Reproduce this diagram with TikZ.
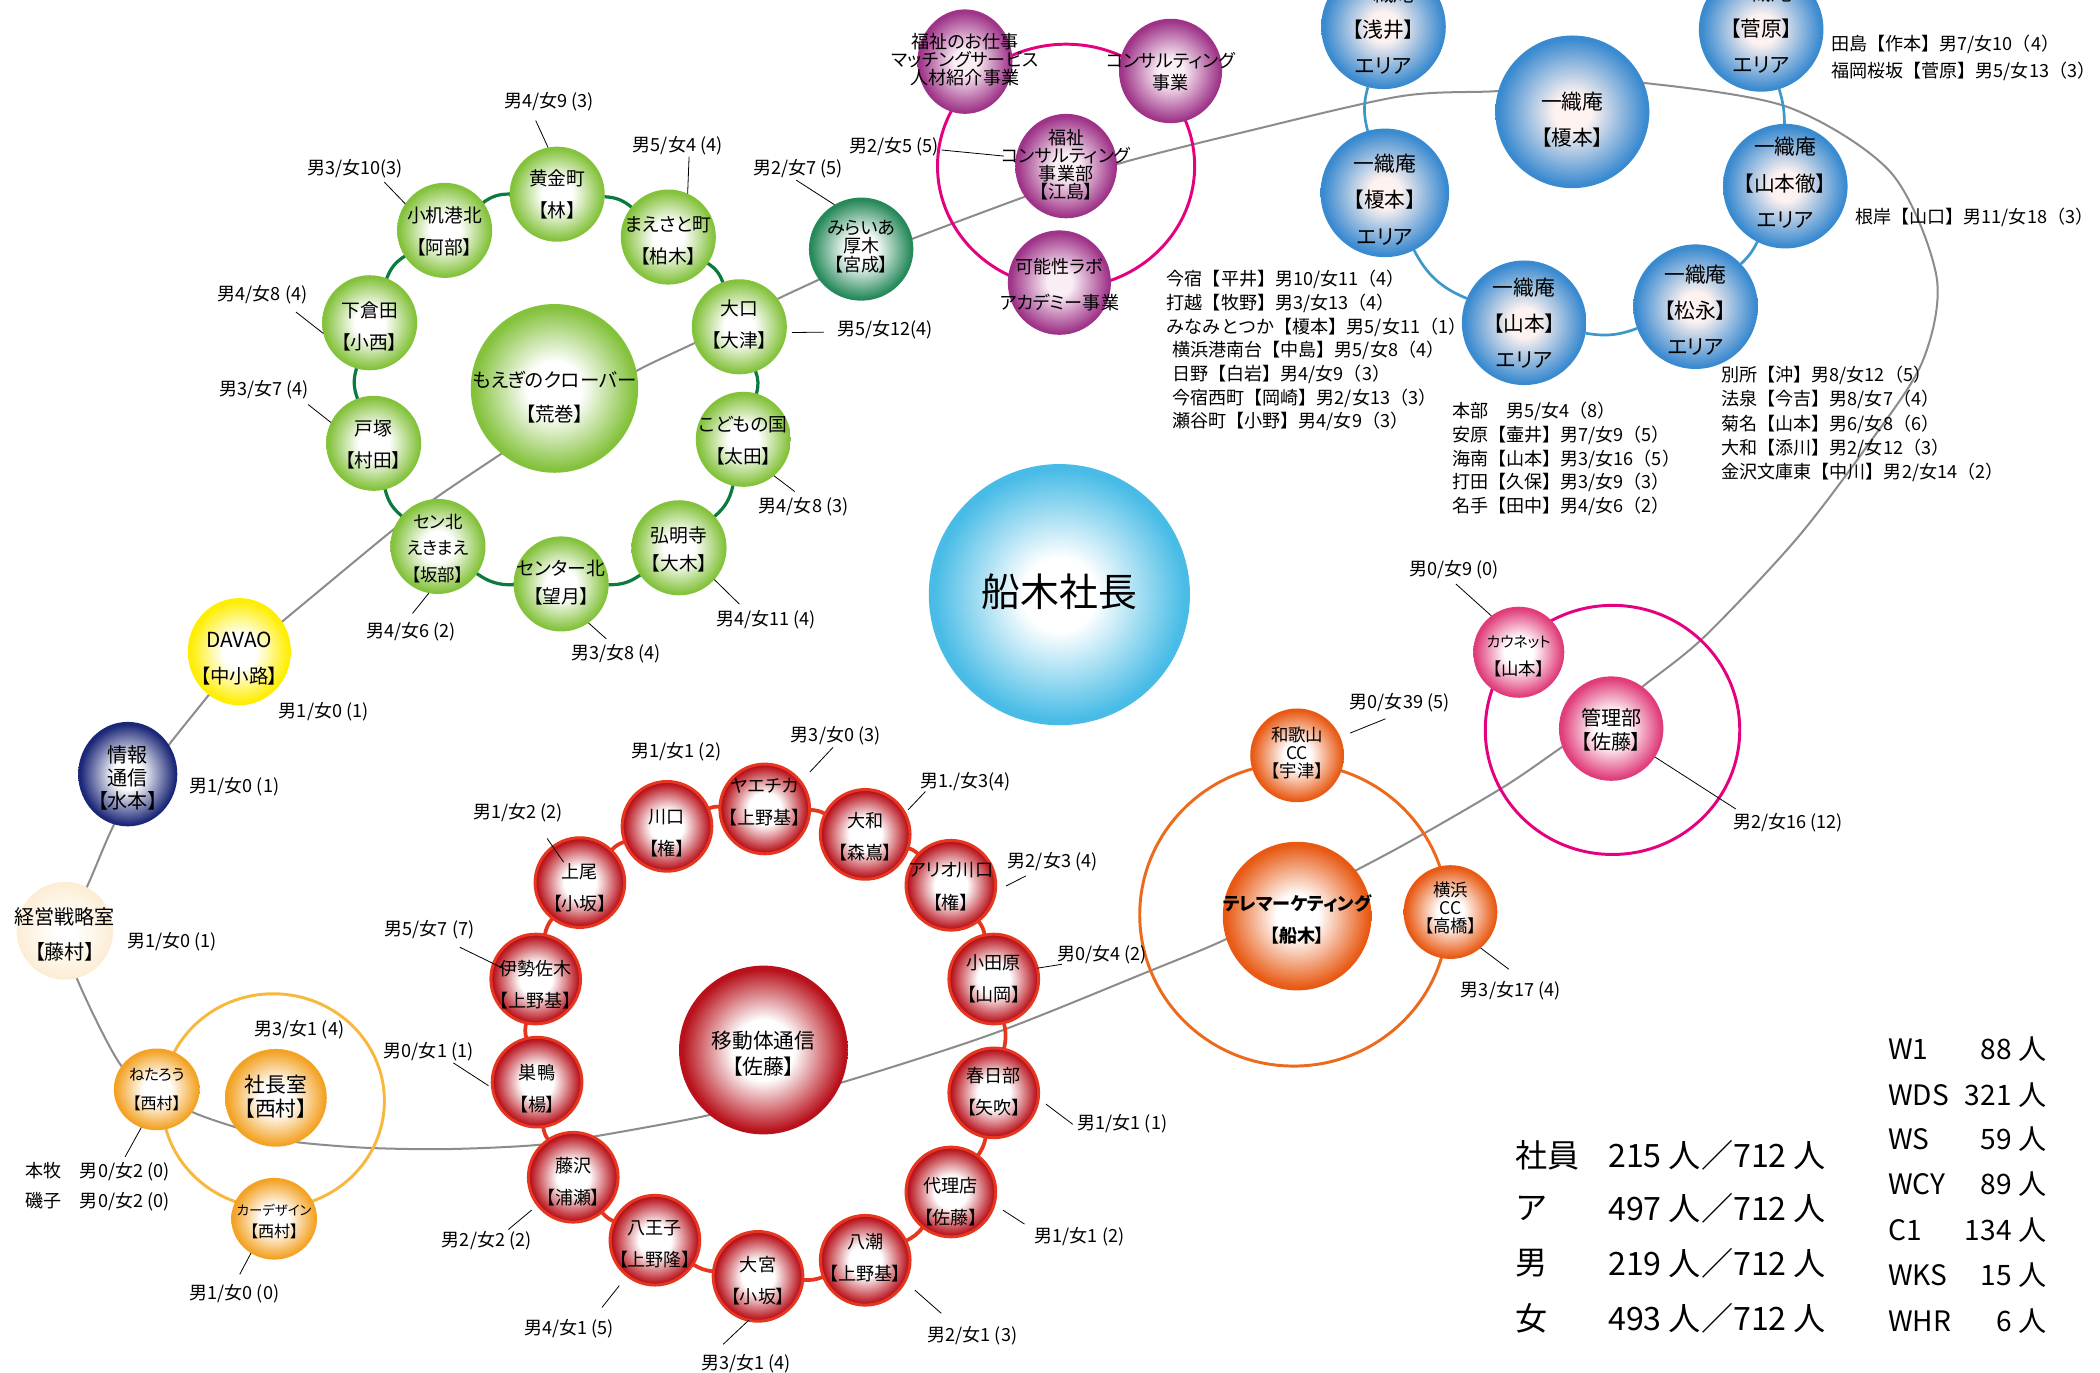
\documentclass[tikz,border=0pt]{standalone}
\usepackage{fontspec}
\setmainfont{Noto Sans CJK JP}
\newfontfamily\pfont[RawFeature=+palt]{Noto Sans CJK JP}
\usetikzlibrary{shapes.geometric}
\newcommand\myfs[2]{\fontsize{#1}{#2}\selectfont}
\definecolor{cgreen}{HTML}{84C23C}
\definecolor{cgreenline}{HTML}{0A7A3E}
\definecolor{cteal}{HTML}{26895A}
\definecolor{cred}{HTML}{B8111B}
\definecolor{credb}{HTML}{E6361F}
\definecolor{cblue}{HTML}{3A8AD0}
\definecolor{cblueinner}{HTML}{FDF2F0}
\definecolor{cblueline}{HTML}{3A98CB}
\definecolor{ccyan}{HTML}{48BCE6}
\definecolor{cpurple}{HTML}{9E3388}
\definecolor{cpurpleinner}{HTML}{FAEEF5}
\definecolor{cmag}{HTML}{E4007F}
\definecolor{corange}{HTML}{E85A14}
\definecolor{corangering}{HTML}{EB6A1C}
\definecolor{cpink}{HTML}{E03C7A}
\definecolor{cgold}{HTML}{F3A224}
\definecolor{cgoldring}{HTML}{F8B83E}
\definecolor{cyellow}{HTML}{FFEE00}
\definecolor{cnavy}{HTML}{1B2777}
\definecolor{ccream}{HTML}{FCEED6}
\definecolor{cspine}{HTML}{8C8C8C}
\newcommand\mkshade[4]{\pgfdeclareradialshading{#1}{\pgfpoint{0bp}{0bp}}{color(0bp)=(#2); color(#4)=(#2); color(24bp)=(#3); color(50bp)=(#3)}}
\mkshade{shgreen}{white}{cgreen}{8bp}
\mkshade{shteal}{white}{cteal}{7bp}
\mkshade{shred}{white}{cred}{9bp}
\mkshade{shblue}{cblueinner}{cblue}{6bp}
\mkshade{shcyan}{white}{ccyan}{7bp}
\mkshade{shpurple}{cpurpleinner}{cpurple}{6bp}
\mkshade{shorange}{white}{corange}{7bp}
\mkshade{shpink}{white}{cpink}{8bp}
\mkshade{shgold}{white}{cgold}{8bp}
\mkshade{shyellow}{white}{cyellow}{8bp}
\mkshade{shnavy}{white}{cnavy}{7bp}
\mkshade{shcream}{white}{ccream}{5bp}
\tikzset{
 bub/.style={ellipse, inner sep=0pt, outer sep=0pt, shade},
 gbub/.style={bub, shading=shgreen, minimum width=71pt, minimum height=71pt},
 rbub/.style={bub, shading=shred, draw=credb, line width=2.2pt, minimum width=67pt, minimum height=67pt},
 bbub/.style={bub, shading=shblue, minimum width=93pt, minimum height=93pt},
 pbub/.style={bub, shading=shpurple, minimum width=77pt, minimum height=78pt},
 obub/.style={bub, shading=shorange, minimum width=70pt, minimum height=70pt},
 ybub/.style={bub, shading=shgold, minimum width=64pt, minimum height=61pt},
 ntxt/.style={align=center, inner sep=0pt},
 gtxt/.style={ntxt, font={\pfont\myfs{14}{24}}},
 rtxt/.style={ntxt, font={\pfont\myfs{13.5}{24}}},
 btxt/.style={ntxt, font={\pfont\myfs{15.5}{27}}},
 ptxt/.style={ntxt, font={\pfont\myfs{13.5}{13.5}}},
 lab/.style={inner sep=0pt, font={\myfs{13.5}{16}}},
 blk/.style={inner sep=0pt, align=left, anchor=west},
 leader/.style={draw=black, line width=0.6pt},
 spine/.style={draw=cspine, line width=1.5pt},
 gline/.style={draw=cgreenline, line width=2.4pt},
 rline/.style={draw=credb, line width=2.8pt},
 bline/.style={draw=cblueline, line width=2pt},
 ring/.style={line width=2.2pt},
}
\begin{document}
\begin{tikzpicture}[x=1pt,y=-1pt]
\useasboundingbox (0,0) rectangle (1568,1025);
\clip (0,0) rectangle (1568,1025);
\fill[white] (0,0) rectangle (1568,1025);

% spine
\draw[spine] plot[smooth cycle, tension=0.5] coordinates {
(48,695) (58,732) (90,795) (117,813) (143,830) (177,842) (200,848) (223,853) (273,857) (333,858) (400,855) (447,848) (523,834) (575,821) (626,809) (741,772) (856,726) (916,701) (968,673) (1046,632) (1122,588) (1166,558) (1200,535) (1226,513) (1272,476) (1340,404) (1392,336) (1435,271) (1446,207) (1412,129) (1335,80) (1228,62) (1173,62) (1118,68) (1045,72) (923,100) (836,122) (800,136) (765,147) (682,178) (645,193) (611,209) (581,223) (552,238) (523,254) (477,276) (425,306) (374,339) (325,372) (293,396) (212,463) (178,491) (155,520) (127,555) (105,585) (85,616) (65,662)};

% cluster rings
\draw[ring, cmag] (796,124) ellipse [x radius=96, y radius=91];
\draw[ring, corangering] (966,683) ellipse [x radius=115, y radius=113];
\draw[ring, cmag] (1204,545) ellipse [x radius=95, y radius=93];
\draw[ring, cgoldring] (204,822) ellipse [x radius=83, y radius=80];

% green nodes
\node[gbub] (kogane) at (416,145) {};
\node[gbub] (maesato) at (499,177) {};
\node[gbub] (oguchi) at (552,244) {};
\node[gbub] (kodomo) at (555,328) {};
\node[gbub] (gumyoji) at (507,409) {};
\node[gbub] (centerkita) at (419,436) {};
\node[gbub] (senkita) at (327,408) {};
\node[gbub] (totsuka) at (279,331) {};
\node[gbub] (shimokurata) at (276,241) {};
\node[gbub] (kozukue) at (332,172) {};
\node[gbub, minimum width=125pt, minimum height=126pt] (moegi) at (414,290) {};
\node[bub, shading=shteal, minimum width=78pt, minimum height=77pt] (mirai) at (643,186) {};

% purple nodes
\node[pbub, minimum width=71pt] (fukushi) at (720.5,46) {};
\node[pbub] (consul) at (874,53) {};
\node[pbub, minimum width=76pt] (fconsul) at (796,124) {};
\node[pbub] (kanosei) at (791,211) {};

% blue nodes
\node[bbub] (asai) at (1033,20) {};
\node[bbub] (sugawara) at (1315,22) {};
\node[bbub, minimum width=115pt, minimum height=114pt] (enomoto) at (1174,83.5) {};
\node[bbub, minimum width=96pt, minimum height=96pt] (enomotoA) at (1034,144) {};
\node[bbub] (yamamotoA) at (1138,241) {};
\node[bbub] (matsunaga) at (1266,229) {};
\node[bbub] (tetsu) at (1333,139) {};

% center
\node[bub, shading=shcyan, minimum width=195pt, minimum height=195pt] (funaki) at (791,444) {};

% pink
\node[bub, shading=shpink, minimum width=68pt, minimum height=68pt] (kaunet) at (1134,487) {};
\node[bub, shading=shpink, minimum width=78pt, minimum height=78pt] (kanri) at (1203,544) {};

% orange
\node[obub] (wakayama) at (968.5,564) {};
\node[obub, minimum width=111pt, minimum height=111pt] (telema) at (968.5,684) {};
\node[obub] (yokoCC) at (1083,681) {};

% red
\node[bub, shading=shred, minimum width=126pt, minimum height=126pt] (idoutai) at (570,784) {};
\node[rbub] (kawaguchi) at (498,617) {};
\node[rbub] (yaechika) at (571,604) {};
\node[rbub] (yamato) at (646,623) {};
\node[rbub] (ario) at (710,661) {};
\node[rbub] (odawara) at (742,731) {};
\node[rbub] (kasukabe) at (742,816) {};
\node[rbub] (dairiten) at (710,890) {};
\node[rbub] (yashio) at (646,941) {};
\node[rbub] (omiya) at (566,953) {};
\node[rbub] (hachioji) at (489,926) {};
\node[rbub] (fujisawa) at (428,879) {};
\node[rbub] (sugamo) at (401,808) {};
\node[rbub] (isezaki) at (400,731) {};
\node[rbub] (ageo) at (433,659) {};

% left
\node[bub, shading=shyellow, minimum width=77pt, minimum height=80pt] (davao) at (178.7,486.6) {};
\node[bub, shading=shnavy, minimum width=74pt, minimum height=78pt] (jouhou) at (95.4,578) {};
\node[bub, shading=shcream, minimum width=72pt, minimum height=73pt] (keiei) at (48.4,695) {};
\node[ybub] (netarou) at (117,813.4) {};
\node[bub, shading=shgold, minimum width=76pt, minimum height=73pt] (shachou) at (206,819.7) {};
\node[ybub] (cardesign) at (204.7,910) {};

% ring connectors
\foreach \a/\b in {kogane/maesato, maesato/oguchi, oguchi/kodomo, kodomo/gumyoji, gumyoji/centerkita, centerkita/senkita, senkita/totsuka, totsuka/shimokurata, shimokurata/kozukue, kozukue/kogane}
  \draw[gline] (\a) to[bend left=18] (\b);
\foreach \a/\b in {kawaguchi/yaechika, yaechika/yamato, yamato/ario, ario/odawara, odawara/kasukabe, kasukabe/dairiten, dairiten/yashio, yashio/omiya, omiya/hachioji, hachioji/fujisawa, fujisawa/sugamo, sugamo/isezaki, isezaki/ageo, ageo/kawaguchi}
  \draw[rline] (\a) to[bend left=13] (\b);
\draw[bline] (asai) to[bend right=15] (enomotoA);
\draw[bline] (enomotoA) to[bend right=20] (yamamotoA);
\draw[bline] (yamamotoA) to[bend right=15] (matsunaga);
\draw[bline] (matsunaga) to[bend right=10] (tetsu);
\draw[bline] (tetsu) to[bend right=8] (sugawara);

% node texts
\node[gtxt] (kogane-t) at (416,145) {黄金町\\【林】};
\node[gtxt] (maesato-t) at (499,180) {まえさと町\\【柏木】};
\node[gtxt] (oguchi-t) at (552,242) {大口\\【大津】};
\node[gtxt] (kodomo-t) at (555,329) {こどもの国\\【太田】};
\node[gtxt, font={\pfont\myfs{14}{21}}] (gumyoji-t) at (507,410) {弘明寺\\【大木】};
\node[gtxt, font={\pfont\myfs{14}{21}}] (centerkita-t) at (419,435) {センター北\\【望月】};
\node[gtxt, font={\pfont\myfs{13}{20}}] (senkita-t) at (327,409.5) {セン北\\えきまえ\\【坂部】};
\node[gtxt] (totsuka-t) at (279,332) {戸塚\\【村田】};
\node[gtxt] (shimokurata-t) at (276,244) {下倉田\\【小西】};
\node[gtxt] (kozukue-t) at (332,172.5) {小机港北\\【阿部】};
\node[gtxt, font={\pfont\myfs{14.5}{25}}] (moegi-t) at (414,296.5) {もえぎのクローバー\\【荒巻】};
\node[ptxt, font={\pfont\myfs{13.5}{13.7}}] (mirai-t) at (643,184) {みらいあ\\厚木\\【宮成】};

\node[ptxt] (fukushi-t) at (720.5,44.5) {福祉のお仕事\\マッチングサービス\\人材紹介事業};
\node[ptxt, font={\pfont\myfs{13.5}{17}}] (consul-t) at (874,53.5) {コンサルティング\\事業};
\node[ptxt] (fconsul-t) at (796,123) {福祉\\コンサルティング\\事業部\\【江島】};
\node[ptxt, font={\pfont\myfs{13.5}{27}}] (kanosei-t) at (791,212.7) {可能性ラボ\\アカデミー事業};

\node[btxt] (asai-t) at (1033,22) {一織庵\\【浅井】\\エリア};
\node[btxt] (sugawara-t) at (1315,21) {一織庵\\【菅原】\\エリア};
\node[btxt] (enomoto-t) at (1174,89.5) {一織庵\\【榎本】};
\node[btxt] (enomotoA-t) at (1034,149) {一織庵\\【榎本】\\エリア};
\node[btxt] (yamamotoA-t) at (1138,241.5) {一織庵\\【山本】\\エリア};
\node[btxt] (matsunaga-t) at (1266,231.5) {一織庵\\【松永】\\エリア};
\node[btxt] (tetsu-t) at (1333,136.5) {一織庵\\【山本徹】\\エリア};

\node[ntxt, font={\pfont\myfs{29}{30}}] (funaki-t) at (791,442) {船木社長};

\node[ntxt, font={\pfont\myfs{13}{21}}] (kaunet-t) at (1134,490) {{\myfs{11}{21}カウネット}\\【山本】};
\node[ntxt, font={\pfont\myfs{15}{18}}] (kanri-t) at (1203,545) {管理部\\【佐藤】};

\node[ntxt, font={\pfont\myfs{13}{13.5}}] (wakayama-t) at (968.5,562.5) {和歌山\\CC\\【宇津】};
\node[ntxt, font={\pfont\bfseries\myfs{13.5}{23.5}}] (telema-t) at (968.5,686.6) {テレマーケティング\\【船木】};
\node[ntxt, font={\pfont\myfs{13}{13.5}}] (yokoCC-t) at (1083,678) {横浜\\CC\\【高橋】};

\node[ntxt, font={\pfont\myfs{15.5}{20}}] (idoutai-t) at (570,786.7) {移動体通信\\【佐藤】};
\node[rtxt] (kawaguchi-t) at (498,622) {川口\\【権】};
\node[rtxt] (yaechika-t) at (571,599) {ヤエチカ\\【上野基】};
\node[rtxt] (yamato-t) at (646,625) {大和\\【森嶌】};
\node[rtxt] (ario-t) at (710,662) {アリオ川口\\【権】};
\node[rtxt] (odawara-t) at (742,731) {小田原\\【山岡】};
\node[rtxt] (kasukabe-t) at (742,815) {春日部\\【矢吹】};
\node[rtxt] (dairiten-t) at (710,897) {代理店\\【佐藤】};
\node[rtxt] (yashio-t) at (646,939) {八潮\\【上野基】};
\node[rtxt] (omiya-t) at (566,956) {大宮\\【小坂】};
\node[rtxt] (hachioji-t) at (489,929) {八王子\\【上野隆】};
\node[rtxt] (fujisawa-t) at (428,882) {藤沢\\【浦瀬】};
\node[rtxt] (sugamo-t) at (401,813) {巣鴨\\【楊】};
\node[rtxt] (isezaki-t) at (400,735) {伊勢佐木\\【上野基】};
\node[rtxt] (ageo-t) at (433,663) {上尾\\【小坂】};

\node[ntxt, font={\pfont\myfs{14.5}{27}}] (davao-t) at (178.7,491.7) {{\myfs{15.5}{27}DAVAO}\\【中小路】};
\node[ntxt, font={\pfont\myfs{15}{17}}] (jouhou-t) at (95.4,581) {情報\\通信\\【水本】};
\node[ntxt, font={\pfont\myfs{15}{26}}] (keiei-t) at (48.4,697.6) {経営戦略室\\【藤村】};
\node[ntxt, font={\pfont\myfs{12}{21.6}}] (netarou-t) at (117,813.8) {{\myfs{11.5}{21.6}ねたろう}\\【西村】};
\node[ntxt, font={\pfont\myfs{15.5}{17.5}}] (shachou-t) at (206,819) {社長室\\【西村】};
\node[ntxt, font={\pfont\myfs{12}{16}}] (cardesign-t) at (204.7,912) {{\myfs{10}{16}カーデザイン}\\【西村】};

% labels
\node[lab] (kogane-lab) at (410,76) {男4/女9 (3)};
\node[lab] (maesato-lab) at (506,109) {男5/女4 (4)};
\node[lab] (kozukue-lab) at (265,126) {男3/女10(3)};
\node[lab] (shimokurata-lab) at (196,220) {男4/女8 (4)};
\node[lab] (totsuka-lab) at (197,291) {男3/女7 (4)};
\node[lab] (senkita-lab) at (307,472) {男4/女6 (2)};
\node[lab] (centerkita-lab) at (460,488) {男3/女8 (4)};
\node[lab] (gumyoji-lab) at (572,463) {男4/女11 (4)};
\node[lab] (kodomo-lab) at (600,378) {男4/女8 (3)};
\node[lab] (oguchi-lab) at (661,246.5) {男5/女12(4)};
\node[lab] (mirai-lab) at (596,125.7) {男2/女7 (5)};
\node[lab] (fconsul-lab) at (667.6,109.5) {男2/女5 (5)};
\node[lab] (kaunet-lab) at (1085.6,425.7) {男0/女9 (0)};
\node[lab] (kanri-lab) at (1335,614) {男2/女16 (12)};
\node[lab] (wakayama-lab) at (1045,525) {男0/女39 (5)};
\node[lab] (yokoCC-lab) at (1128,740) {男3/女17 (4)};
\node[lab] (kawaguchi-lab) at (505,561) {男1/女1 (2)};
\node[lab] (yaechika-lab) at (624,549) {男3/女0 (3)};
\node[lab] (yamato-lab) at (721,584) {男1./女3(4)};
\node[lab] (ario-lab) at (786,643.5) {男2/女3 (4)};
\node[lab] (odawara-lab) at (823,713) {男0/女4 (2)};
\node[lab] (kasukabe-lab) at (838,838.7) {男1/女1 (1)};
\node[lab] (dairiten-lab) at (806,923.6) {男1/女1 (2)};
\node[lab] (yashio-lab) at (726,997) {男2/女1 (3)};
\node[lab] (omiya-lab) at (557,1018) {男3/女1 (4)};
\node[lab] (hachioji-lab) at (425,992) {男4/女1 (5)};
\node[lab] (fujisawa-lab) at (363.4,926) {男2/女2 (2)};
\node[lab] (sugamo-lab) at (320,785.4) {男0/女1 (1)};
\node[lab] (isezaki-lab) at (320.7,694.5) {男5/女7 (7)};
\node[lab] (ageo-lab) at (386.8,607) {男1/女2 (2)};
\node[lab] (davao-lab) at (241.7,531.5) {男1/女0 (1)};
\node[lab] (jouhou-lab) at (175,587.5) {男1/女0 (1)};
\node[lab] (keiei-lab) at (128.4,703.3) {男1/女0 (1)};
\node[lab] (shachou-lab) at (223.5,769) {男3/女1 (4)};
\node[lab, anchor=west] (honmoku-lab) at (19,875) {本牧　男0/女2 (0)};
\node[lab, anchor=west] (isogo-lab) at (19,897.4) {磯子　男0/女2 (0)};
\node[lab] (cardesign-lab) at (175,965.8) {男1/女0 (0)};

% leaders
\coordinate (kogane-l) at (400,90);
\coordinate (maesato-l) at (514.5,117);
\coordinate (kozukue-l) at (287,136);
\coordinate (shimokurata-l) at (221,233);
\coordinate (totsuka-l) at (230,302);
\coordinate (senkita-l) at (308,458);
\coordinate (centerkita-l) at (452.7,477);
\coordinate (gumyoji-l) at (552,451);
\coordinate (kodomo-l) at (593.4,367);
\coordinate (oguchi-l) at (615,248);
\coordinate (mirai-l) at (594.5,134.5);
\coordinate (fconsul-l) at (703,112);
\coordinate (kaunet-l) at (1087,436);
\coordinate (kanri-l) at (1296,604);
\coordinate (wakayama-l) at (1034.5,536.7);
\coordinate (yokoCC-l) at (1126.6,723.7);
\coordinate (yaechika-l) at (622,558);
\coordinate (yamato-l) at (691,591);
\coordinate (ario-l) at (766,654);
\coordinate (odawara-l) at (792.8,720);
\coordinate (kasukabe-l) at (801,839.5);
\coordinate (dairiten-l) at (765,914);
\coordinate (yashio-l) at (702.8,980.6);
\coordinate (omiya-l) at (540,1003.7);
\coordinate (hachioji-l) at (449.4,976.3);
\coordinate (fujisawa-l) at (379.6,918);
\coordinate (sugamo-l) at (338.5,793.6);
\coordinate (isezaki-l) at (343.4,707.3);
\coordinate (ageo-l) at (408.5,626);
\coordinate (netarou-l) at (93.4,863.8);
\coordinate (cardesign-l) at (179,951.5);
\draw[leader] (kogane-l) -- (kogane.101);
\draw[leader] (maesato-l) -- (maesato.66);
\draw[leader] (kozukue-l) -- (kozukue.146);
\draw[leader] (shimokurata-l) -- (shimokurata.193);
\draw[leader] (totsuka-l) -- (totsuka.154);
\draw[leader] (senkita-l) -- (senkita.259);
\draw[leader] (centerkita-l) -- (centerkita.305);
\draw[leader] (gumyoji-l) -- (gumyoji.318);
\draw[leader] (kodomo-l) -- (kodomo.310);
\draw[leader, shorten >=4pt] (oguchi-l) -- (oguchi.353);
\draw[leader] (mirai-l) -- (mirai.121);
\draw[leader, shorten >=9pt] (fconsul-l) -- (fconsul.170);
\draw[leader] (kaunet-l) -- (kaunet.127);
\draw[leader] (kanri-l) -- (kanri.327);
\draw[leader, shorten >=8pt] (wakayama-l) -- (wakayama.23);
\draw[leader] (yokoCC-l) -- (yokoCC.310);
\draw[leader, shorten >=10pt] (yaechika-l) -- (yaechika.37);
\draw[leader, shorten >=3.5pt] (yamato-l) -- (yamato.28);
\draw[leader, shorten >=9pt] (ario-l) -- (ario.352);
\draw[leader] (odawara-l) -- (odawara.14);
\draw[leader, shorten >=7pt] (kasukabe-l) -- (kasukabe.353);
\draw[leader, shorten >=8pt] (dairiten-l) -- (dairiten.344);
\draw[leader, shorten >=10pt] (yashio-l) -- (yashio.332);
\draw[leader] (omiya-l) -- (omiya.258);
\draw[leader, shorten >=9.6pt] (hachioji-l) -- (hachioji.232);
\draw[leader, shorten >=6pt] (fujisawa-l) -- (fujisawa.218);
\draw[leader, shorten >=3.7pt] (sugamo-l) -- (sugamo.188);
\draw[leader, shorten >=-10pt] (isezaki-l) -- (isezaki.160);
\draw[leader, shorten >=-14pt] (ageo-l) -- (ageo.127);
\draw[leader] (netarou-l) -- (netarou.248);
\draw[leader] (cardesign-l) -- (cardesign.236);

% text blocks
\node[blk, font={\myfs{13.5}{17.7}}] (blk1) at (871,261.8) {今宿【平井】男10/女11（4）\\打越【牧野】男3/女13（4）\\みなみとつか【榎本】男5/女11（1）\\\hspace*{4pt}横浜港南台【中島】男5/女8（4）\\\hspace*{4pt}日野【白岩】男4/女9（3）\\\hspace*{4pt}今宿西町【岡崎】男2/女13（3）\\\hspace*{4pt}瀬谷町【小野】男4/女9（3）};
\node[blk, font={\myfs{13.5}{17.6}}] (blk2) at (1084,342.7) {本部　男5/女4（8）\\安原【壷井】男7/女9（5）\\海南【山本】男3/女16（5）\\打田【久保】男3/女9（3）\\名手【田中】男4/女6（2）};
\node[blk, font={\myfs{13.5}{18.1}}] (blk3) at (1285,316.5) {別所【沖】男8/女12（5）\\法泉【今吉】男8/女7（4）\\菊名【山本】男6/女8（6）\\大和【添川】男2/女12（3）\\金沢文庫東【中川】男2/女14（2）};
\node[blk, font={\myfs{13.5}{20}}] (blk4) at (1367,43) {田島【作本】男7/女10（4）\\福岡桜坂【菅原】男5/女13（3）};
\node[blk, font={\myfs{13.5}{16}}] (blk5) at (1385,162) {根岸【山口】男11/女18（3）};

% stats
\node[blk, font={\myfs{24}{24}}] (st1) at (1131.6,862.6) {社員};
\node[blk, font={\myfs{24}{24}}] (st1v) at (1200.6,862.6) {215 人／712 人};
\node[blk, font={\myfs{24}{24}}] (st2) at (1131.6,902) {ア};
\node[blk, font={\myfs{24}{24}}] (st2v) at (1200.6,902) {497 人／712 人};
\node[blk, font={\myfs{24}{24}}] (st3) at (1131.6,943) {男};
\node[blk, font={\myfs{24}{24}}] (st3v) at (1200.6,943) {219 人／712 人};
\node[blk, font={\myfs{24}{24}}] (st4) at (1131.6,984.5) {女};
\node[blk, font={\myfs{24}{24}}] (st4v) at (1200.6,984.5) {493 人／712 人};

\foreach \n/\v/\yy in {W1/88/783.7, WDS/321/817.8, WS/59/850.7, WCY/89/884.4, C1/134/918.6, WKS/15/952, WHR/6/986.3}{
  \node[blk, font={\myfs{21}{21}}] (w-\n) at (1409.6,\yy) {\n};
  \node[inner sep=0pt, anchor=east, font={\myfs{21}{21}}] (wv-\n) at (1528,\yy) {\v\ 人};
}
\end{tikzpicture}
\end{document}
